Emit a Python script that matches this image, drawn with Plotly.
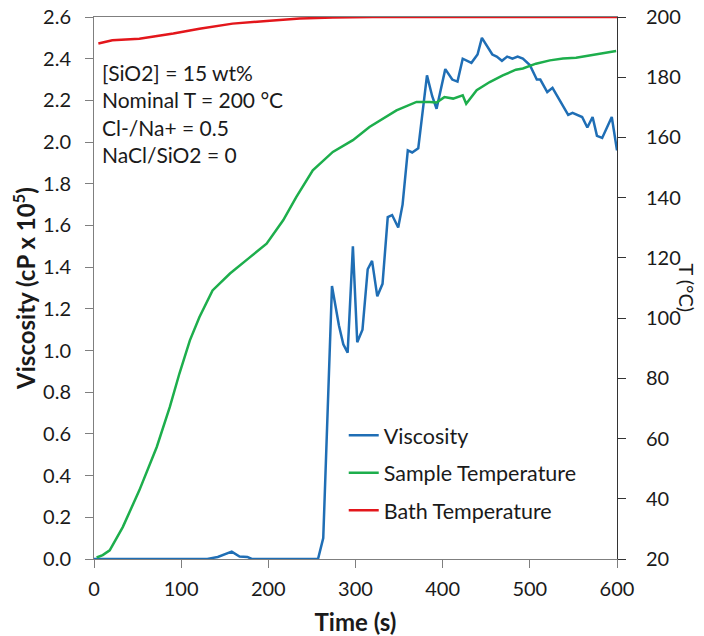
import plotly.graph_objects as go

# Viscosity (cP x 10^5) vs time (s)
visc_t = [0, 130, 142, 158, 167, 176, 181, 257, 263, 273, 281, 286, 291, 297, 302, 308, 314,
          319, 325, 331, 337, 342, 349, 354, 360, 365, 372, 382, 388, 393, 403, 411, 417, 423,
          433, 440, 445, 457, 462, 468, 474, 480, 486, 492, 500, 508, 512, 520, 526, 544, 549,
          560, 566, 572, 577, 583, 594, 600]
visc_v = [0.0, 0.0, 0.01, 0.035, 0.012, 0.01, 0.0, 0.0, 0.10, 1.31, 1.12, 1.03, 0.99, 1.50,
          1.04, 1.10, 1.39, 1.43, 1.26, 1.32, 1.64, 1.65, 1.59, 1.70, 1.96, 1.95, 1.97, 2.32,
          2.22, 2.16, 2.35, 2.30, 2.29, 2.40, 2.38, 2.42, 2.50, 2.42, 2.41, 2.39, 2.41, 2.40,
          2.41, 2.40, 2.37, 2.30, 2.30, 2.24, 2.26, 2.13, 2.14, 2.12, 2.07, 2.12, 2.03, 2.02,
          2.12, 1.96]

# Sample temperature (deg C)
samp_t = [3, 10, 18, 33, 52, 72, 87, 98, 110, 121, 136, 156, 178, 198, 217, 232, 251, 274,
          297, 316, 347, 370, 385, 393, 402, 412, 423, 427, 439, 454, 469, 484, 492, 507, 523,
          538, 553, 569, 584, 599]
samp_T = [20.5, 21.3, 22.9, 30.6, 42.8, 57.2, 70.5, 81.6, 92.6, 100.4, 109.2, 114.8, 120.0,
          124.7, 132.5, 140.2, 149.1, 155.2, 159.1, 163.5, 169.0, 171.8, 171.8, 171.6, 173.4,
          172.9, 174.0, 171.2, 175.7, 178.4, 180.6, 182.5, 182.9, 184.5, 185.6, 186.2, 186.5,
          187.3, 188.0, 188.7]

# Bath temperature (deg C)
bath_t = [5, 21, 52, 91, 121, 159, 198, 236, 274, 320, 400, 500, 600]
bath_T = [191.2, 192.3, 192.8, 194.5, 196.1, 197.8, 198.7, 199.5, 199.8, 200.0, 200.0, 200.0, 200.0]

BLUE = "#1F6EB5"
GREEN = "#1DAE4C"
RED = "#E3161B"
FONT = "Lato"
AX = "#7f7f7f"
AXR = "#333333"
TXT = "#1a1a1a"

fig = go.Figure()
fig.add_trace(go.Scatter(x=visc_t, y=visc_v, mode="lines", name="Viscosity", legendgroup="a",
                         line=dict(color=BLUE, width=2.5)))
fig.add_trace(go.Scatter(x=samp_t, y=samp_T, mode="lines", name="Sample Temperature",
                         legendgroup="b", line=dict(color=GREEN, width=2.5), yaxis="y2"))
fig.add_trace(go.Scatter(x=bath_t, y=bath_T, mode="lines", name="Bath Temperature",
                         legendgroup="c", line=dict(color=RED, width=2.5), yaxis="y2"))

fig.update_layout(
    width=704, height=636,
    margin=dict(l=94, r=87, t=17, b=77),
    paper_bgcolor="white", plot_bgcolor="white",
    font=dict(family=FONT, size=20, color=TXT),
    showlegend=True,
    legend=dict(x=0.4775, y=0.266, xanchor="left", yanchor="top",
                bgcolor="rgba(0,0,0,0)", font=dict(size=21.5), tracegroupgap=6.5,
                itemwidth=30),
    xaxis=dict(range=[0, 600], dtick=100, showgrid=False, zeroline=False, automargin=False,
               showline=True, linecolor=AX, linewidth=1, mirror=True,
               ticks="outside", ticklen=8, tickcolor=AX, ticklabelstandoff=4,
               ticklabeloverflow="allow",
               title=dict(text="<b>Time (s)</b>", standoff=15)),
    yaxis=dict(range=[0, 2.6], dtick=0.2, tickformat=".1f", showgrid=False, zeroline=False,
               automargin=False, showline=True, linecolor=AX, linewidth=1,
               ticks="outside", ticklen=8, tickcolor=AX, ticklabelstandoff=10,
               ticklabeloverflow="allow",
               title=dict(text="<b>Viscosity (cP x 10<sup>5</sup>)</b>", standoff=0)),
    yaxis2=dict(range=[20, 200], dtick=20, overlaying="y", side="right", showgrid=False,
                zeroline=False, automargin=False, showline=True, linecolor=AXR, linewidth=1,
                ticks="outside", ticklen=8, tickcolor=AXR, ticklabelstandoff=16,
                ticklabeloverflow="allow"),
)

fig.add_annotation(xref="paper", yref="paper", x=1.133, y=0.5, text="T (°C)",
                   textangle=90, showarrow=False, font=dict(size=20, color=TXT),
                   xanchor="center", yanchor="middle")

fig.add_annotation(xref="paper", yref="paper", x=0.012, y=0.924, xanchor="left", yanchor="top",
                   align="left", showarrow=False,
                   text="[SiO2] = 15 wt%<br>Nominal T = 200 °C<br>Cl-/Na+ = 0.5<br>NaCl/SiO2 = 0",
                   font=dict(size=21, color=TXT))

fig.write_html("out.html", config={"displayModeBar": False},
               post_script="document.body.style.margin='0';")
